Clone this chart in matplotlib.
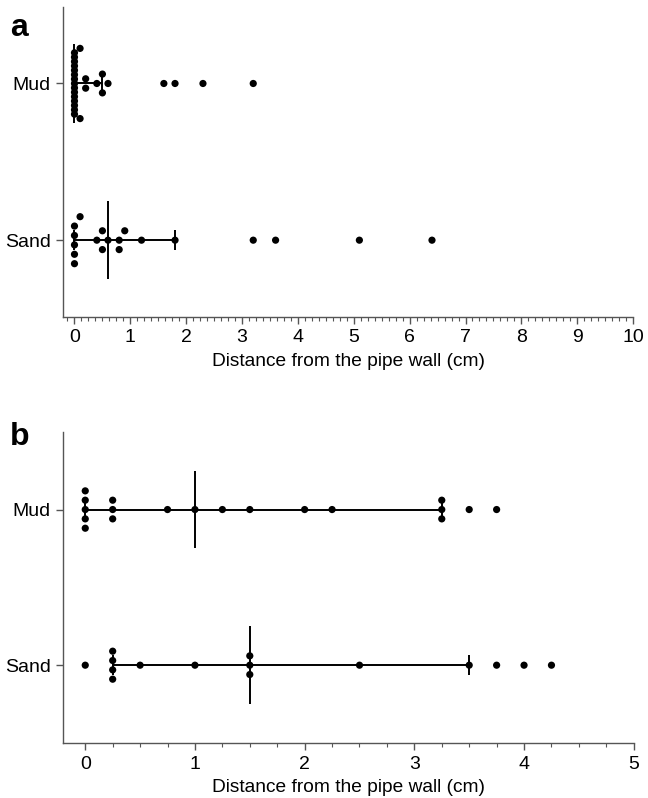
import numpy as np
import matplotlib
matplotlib.use("Agg")
import matplotlib.pyplot as plt
from matplotlib.ticker import MultipleLocator

plt.rcParams['font.family'] = ['Liberation Sans', 'DejaVu Sans']

# ---------------- data ----------------
categories = ["Mud", "Sand"]

# panel a (distance from the pipe wall, cm)
mud_a = [0, 0, 0, 0, 0, 0, 0, 0, 0, 0, 0, 0, 0, 0, 0,
         0.1, 0.1, 0.2, 0.2, 0.4, 0.5, 0.5, 0.6, 1.6, 1.8, 2.3, 3.2]
sand_a = [0, 0, 0, 0, 0, 0.1, 0.4, 0.5, 0.5, 0.6, 0.8, 0.8, 0.9,
          1.2, 1.8, 3.2, 3.6, 5.1, 6.4]

# panel b
mud_b = [0, 0, 0, 0, 0, 0.25, 0.25, 0.25, 0.75, 1.0, 1.25, 1.5, 2.0, 2.25,
         3.25, 3.25, 3.25, 3.5, 3.75]
sand_b = [0, 0.25, 0.25, 0.25, 0.25, 0.5, 1.0, 1.5, 1.5, 1.5, 2.5, 3.5,
          3.75, 4.0, 4.25]

xticks_a = list(range(0, 11))
xticks_b = list(range(0, 6))
xlabel = "Distance from the pipe wall (cm)"

# ---------------- helpers ----------------
DOT_PX = 7.2        # dot diameter in pixels
STEP = 0.06         # vertical spacing of stacked dots (category units)
MAXHALF = 0.224     # max half-height of a dot column


def swarm_offsets(vals, xthr):
    vals = np.asarray(vals, float)
    order = np.argsort(vals, kind="stable")
    clusters = []
    for i in order:
        if clusters and vals[i] - vals[clusters[-1][0]] < xthr:
            clusters[-1].append(i)
        else:
            clusters.append([i])
    off = np.zeros(len(vals))
    for cl in clusters:
        k = len(cl)
        if k == 1:
            continue
        s = min(STEP, 2 * MAXHALF / (k - 1))
        slots = []
        if k % 2 == 1:
            slots.append(0.0)
            j = 1
            while len(slots) < k:
                slots += [j, -j]
                j += 1
        else:
            j = 0.5
            while len(slots) < k:
                slots += [j, -j]
                j += 1
        slots = slots[:k]
        for idx, sl in zip(cl, slots):
            off[idx] = -sl * s
    return off


def draw_panel(ax, series, xlim, xticks, minor, ylim):
    ax.set_xlim(*xlim)
    ax.set_ylim(*ylim)
    fig = ax.figure
    bbox = ax.get_window_extent()
    px_per_unit = bbox.width / (xlim[1] - xlim[0])
    xthr = 6.6 / px_per_unit
    ypos = [1, 0]
    for y, vals in zip(ypos, series):
        v = np.asarray(vals, float)
        q1, med, q3 = np.percentile(v, [25, 50, 75], method="weibull")
        lw = 1.4
        ax.plot([q1, q3], [y, y], color="black", lw=lw, zorder=2,
                solid_capstyle="butt")
        for q in (q1, q3):
            ax.plot([q, q], [y - 0.065, y + 0.065], color="black", lw=lw,
                    zorder=2, solid_capstyle="butt")
        ax.plot([med, med], [y - 0.25, y + 0.25], color="black", lw=lw,
                zorder=2, solid_capstyle="butt")
        off = swarm_offsets(v, xthr)
        ax.scatter(v, y + off, s=(DOT_PX * 72 / fig.dpi) ** 2, color="black",
                   edgecolors="none", zorder=3, clip_on=False)
    ax.set_yticks(ypos)
    ax.set_yticklabels(categories)
    ax.set_xticks(xticks)
    ax.xaxis.set_minor_locator(MultipleLocator(minor))
    for side in ("top", "right"):
        ax.spines[side].set_visible(False)
    for side in ("left", "bottom"):
        ax.spines[side].set_color("#555555")
        ax.spines[side].set_linewidth(1.0)
    ax.tick_params(axis="both", which="major", length=5, width=1.0,
                   color="#555555", labelsize=14, pad=4, labelcolor="black")
    ax.tick_params(axis="x", which="minor", length=3, width=0.8,
                   color="#555555")
    ax.tick_params(axis="y", which="minor", left=False)
    ax.set_xlabel(xlabel, fontsize=13.8, labelpad=5)


fig = plt.figure(figsize=(6.48, 7.98), dpi=100)
ax_a = fig.add_axes([0.0977, 0.6028, 0.8793, 0.3888])
ax_b = fig.add_axes([0.0977, 0.0689, 0.8803, 0.3901])

draw_panel(ax_a, [mud_a, sand_a], (-0.2, 10), xticks_a, 0.125, (-0.49, 1.49))
draw_panel(ax_b, [mud_b, sand_b], (-0.2, 5), xticks_b, 0.25, (-0.5, 1.5))

fig.text(0.015, 0.984, "a", fontsize=23, fontweight="bold", va="top", ha="left")
fig.text(0.015, 0.471, "b", fontsize=23, fontweight="bold", va="top", ha="left")

fig.savefig("out.png", dpi=100)
